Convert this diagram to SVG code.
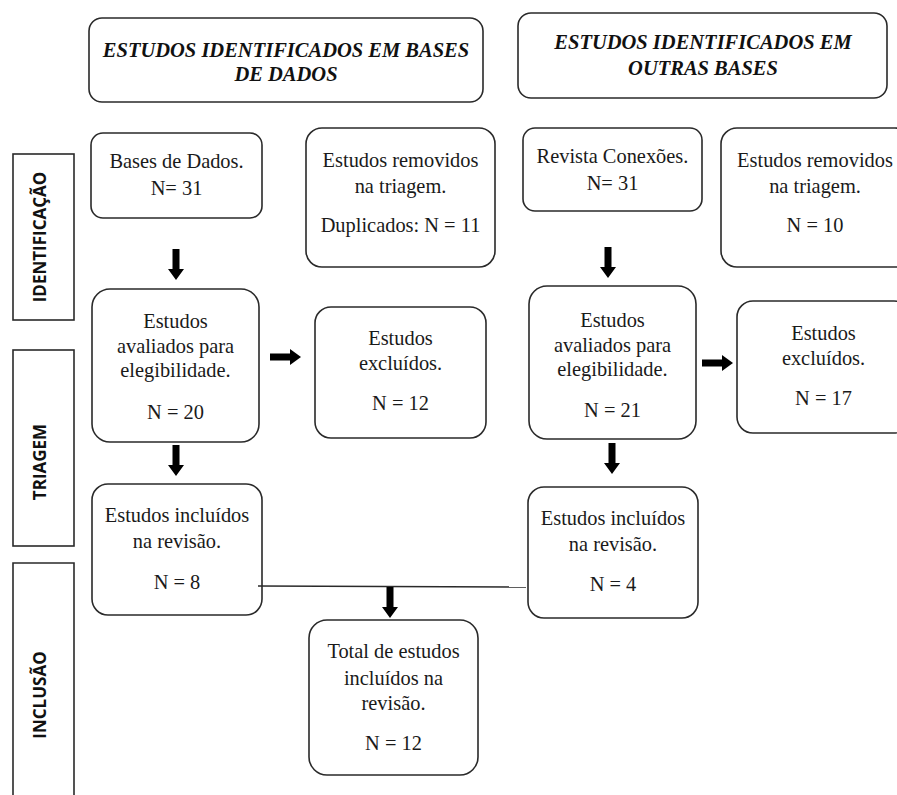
<svg xmlns="http://www.w3.org/2000/svg" width="897" height="795" viewBox="0 0 897 795">
<defs>
<style>
.box{fill:#fff;stroke:#2a2a2a;stroke-width:1.6}
.side{fill:#fff;stroke:#2a2a2a;stroke-width:1.6}
.t{font-family:"Liberation Serif","Times New Roman",serif;font-size:20.4px;fill:#1a1a1a;text-anchor:middle}
.h{font-family:"Liberation Serif","Times New Roman",serif;font-size:20.5px;font-weight:bold;font-style:italic;fill:#111;text-anchor:middle}
.s{font-family:"Open Sans","Noto Sans",sans-serif;font-size:17px;font-weight:bold;fill:#111;text-anchor:middle}
.ln{stroke:#2a2a2a;stroke-width:1.4;fill:none}
.ar{fill:#000}
</style>
<path id="down" d="M-3.5,0 h7 v20 h4.5 l-8,11 l-8,-11 h4.5 z"/>
<path id="right" d="M0,-3.5 h20 v-4.5 l11,8 l-11,8 v-4.5 h-20 z"/>
</defs>
<rect width="897" height="795" fill="#fff"/>

<g id="side-identificacao">
<rect class="side" x="13" y="154" width="61" height="166"/>
<text class="s" transform="translate(46,237) rotate(-90)">IDENTIFICAÇÃO</text>
</g>
<g id="side-triagem">
<rect class="side" x="13" y="350" width="61" height="196"/>
<text class="s" transform="translate(46,462) rotate(-90)">TRIAGEM</text>
</g>
<g id="side-inclusao">
<path class="side" d="M13,800 V563 H74 V800"/>
<text class="s" transform="translate(46,695) rotate(-90)">INCLUSÃO</text>
</g>

<g id="header-bases">
<rect class="box" x="89" y="18" width="394" height="84" rx="13"/>
<text class="h" x="286" y="57">ESTUDOS IDENTIFICADOS EM BASES</text>
<text class="h" x="286" y="81">DE DADOS</text>
</g>
<g id="header-outras">
<rect class="box" x="518" y="13" width="369" height="85" rx="13"/>
<text class="h" x="703" y="49">ESTUDOS IDENTIFICADOS EM</text>
<text class="h" x="703" y="75">OUTRAS BASES</text>
</g>

<g id="bases-dados">
<rect class="box" x="91" y="133" width="171" height="85" rx="12"/>
<text class="t" x="176.5" y="168">Bases de Dados.</text>
<text class="t" x="176.5" y="195">N= 31</text>
</g>
<g id="removidos-1">
<rect class="box" x="306" y="128" width="189" height="139" rx="16"/>
<text class="t" x="400.5" y="167">Estudos removidos</text>
<text class="t" x="400.5" y="193">na triagem.</text>
<text class="t" x="400.5" y="232">Duplicados: N = 11</text>
</g>
<g id="revista">
<rect class="box" x="523" y="128" width="179" height="83" rx="12"/>
<text class="t" x="612.5" y="163">Revista Conexões.</text>
<text class="t" x="612.5" y="190">N= 31</text>
</g>
<g id="removidos-2">
<rect class="box" x="721" y="128" width="190" height="139" rx="16"/>
<text class="t" x="815" y="167">Estudos removidos</text>
<text class="t" x="815" y="193">na triagem.</text>
<text class="t" x="815" y="232">N = 10</text>
</g>

<g id="avaliados-1">
<rect class="box" x="92" y="289" width="167" height="153" rx="18"/>
<text class="t" x="175.5" y="328">Estudos</text>
<text class="t" x="175.5" y="353">avaliados para</text>
<text class="t" x="175.5" y="377">elegibilidade.</text>
<text class="t" x="175.5" y="419">N = 20</text>
</g>
<g id="excluidos-1">
<rect class="box" x="315" y="307" width="171" height="131" rx="16"/>
<text class="t" x="400.5" y="345">Estudos</text>
<text class="t" x="400.5" y="370">excluídos.</text>
<text class="t" x="400.5" y="410">N = 12</text>
</g>
<g id="avaliados-2">
<rect class="box" x="529" y="286" width="167" height="153" rx="18"/>
<text class="t" x="612.5" y="327">Estudos</text>
<text class="t" x="612.5" y="352">avaliados para</text>
<text class="t" x="612.5" y="376">elegibilidade.</text>
<text class="t" x="612.5" y="417">N = 21</text>
</g>
<g id="excluidos-2">
<rect class="box" x="737" y="301" width="173" height="132" rx="16"/>
<text class="t" x="823.5" y="340">Estudos</text>
<text class="t" x="823.5" y="365">excluídos.</text>
<text class="t" x="823.5" y="405">N = 17</text>
</g>

<g id="incluidos-1">
<rect class="box" x="92" y="484" width="170" height="131" rx="16"/>
<text class="t" x="177" y="522">Estudos incluídos</text>
<text class="t" x="177" y="548">na revisão.</text>
<text class="t" x="177" y="589">N = 8</text>
</g>
<g id="incluidos-2">
<rect class="box" x="528" y="487" width="170" height="131" rx="16"/>
<text class="t" x="613" y="525">Estudos incluídos</text>
<text class="t" x="613" y="551">na revisão.</text>
<text class="t" x="613" y="591">N = 4</text>
</g>
<g id="total">
<rect class="box" x="309" y="620" width="169" height="155" rx="18"/>
<text class="t" x="393.5" y="658">Total de estudos</text>
<text class="t" x="393.5" y="685">incluídos na</text>
<text class="t" x="393.5" y="710">revisão.</text>
<text class="t" x="393.5" y="750">N = 12</text>
</g>

<g id="connectors">
<use href="#down" class="ar" x="176" y="249"/>
<use href="#down" class="ar" x="176" y="445"/>
<use href="#down" class="ar" x="608" y="247"/>
<use href="#down" class="ar" x="612" y="443"/>
<use href="#right" class="ar" x="270" y="357"/>
<use href="#right" class="ar" x="702" y="363"/>
<path class="ln" d="M258,586 L526,587"/>
<use href="#down" class="ar" x="390" y="587"/>
</g>
</svg>
